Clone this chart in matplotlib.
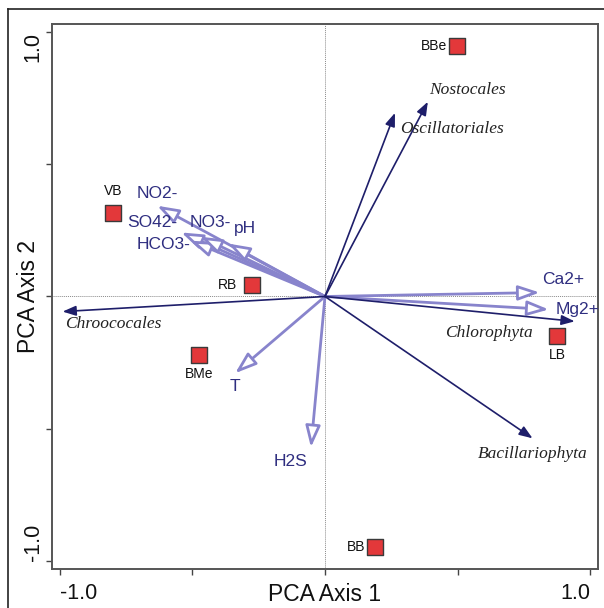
import matplotlib
matplotlib.use("Agg")
import matplotlib.pyplot as plt
from matplotlib.lines import Line2D

plt.rcParams["font.family"] = ["Liberation Sans", "DejaVu Sans"]

# sampling sites (PCA scores)
SITES = ["VB", "RB", "BMe", "BBe", "LB", "BB"]
SITE_X = [-0.80, -0.275, -0.475, 0.497, 0.874, 0.188]
SITE_Y = [0.317, 0.045, -0.223, 0.947, -0.151, -0.947]

# environmental variables (loadings)
ENV = ["NO2-", "SO42-", "HCO3-", "NO3-", "pH", "Ca2+", "Mg2+", "T", "H2S"]
ENV_X = [-0.633, -0.542, -0.508, -0.47, -0.365, 0.81, 0.844, -0.339, -0.053]
ENV_Y = [0.343, 0.242, 0.211, 0.226, 0.20, 0.015, -0.049, -0.29, -0.57]

# taxa (loadings)
TAXA = ["Nostocales", "Oscillatoriales", "Chroococales", "Chlorophyta",
        "Bacillariophyta"]
TAXA_X = [0.388, 0.264, -0.99, 0.942, 0.783]
TAXA_Y = [0.736, 0.694, -0.057, -0.094, -0.536]

# label placement (pixel offsets from point / arrow tip)
SITE_OFF = {"VB": (0, 22), "RB": (-25, 0), "BMe": (0, -19),
            "BBe": (-23, 0), "LB": (1, -19), "BB": (-19, 0)}
ENV_OFF = {"NO2-": (0, 12), "SO42-": (-29, 10), "HCO3-": (-27, -4),
           "NO3-": (10, 14), "pH": (17, 15), "Ca2+": (23, 13),
           "Mg2+": (29, 0), "T": (0, -13), "H2S": (-20, -14)}
TAXA_OFF = {"Nostocales": (40, 12), "Oscillatoriales": (57, -16),
            "Chroococales": (51, -12), "Chlorophyta": (-86, -12),
            "Bacillariophyta": (0, -16)}

ENV_C = "#8884cc"
ENV_TXT = "#2f2e80"
TAXA_C = "#1e1e6a"

fig = plt.figure(figsize=(6.04, 6.08), dpi=100)
ax = fig.add_axes([52 / 604, 39 / 608, 546 / 604, 545 / 608])
ax.set_xlim(-1.03, 1.03)
ax.set_ylim(-1.03, 1.03)

ax.axhline(0, color="#8a8a8a", lw=0.7, ls=(0, (1, 1)), zorder=0)
ax.axvline(0, color="#8a8a8a", lw=0.7, ls=(0, (1, 1)), zorder=0)

for name, x, y in zip(ENV, ENV_X, ENV_Y):
    ax.annotate("", xy=(x, y), xytext=(0, 0),
                arrowprops=dict(arrowstyle="-|>,head_length=1.3,head_width=0.45",
                                fc="white", ec=ENV_C, lw=2.0, mutation_scale=10,
                                shrinkA=0, shrinkB=0), zorder=2)
    dx, dy = ENV_OFF[name]
    ax.annotate(name, xy=(x, y), xytext=(dx, dy), textcoords="offset pixels",
                ha="center", va="center", fontsize=12.5, color=ENV_TXT,
                annotation_clip=False, zorder=4)

for name, x, y in zip(TAXA, TAXA_X, TAXA_Y):
    ax.annotate("", xy=(x, y), xytext=(0, 0),
                arrowprops=dict(arrowstyle="-|>,head_length=0.8,head_width=0.3",
                                fc=TAXA_C, ec=TAXA_C, lw=1.2, mutation_scale=10,
                                shrinkA=0, shrinkB=0), zorder=3)
    dx, dy = TAXA_OFF[name]
    ax.annotate(name, xy=(x, y), xytext=(dx, dy), textcoords="offset pixels",
                ha="center", va="center", fontsize=12.5, style="italic",
                family="Liberation Serif", color="#222222", zorder=4)

ax.scatter(SITE_X, SITE_Y, marker="s", s=130, color="#e3383a",
           edgecolors="#3a3a3a", linewidths=1.0, zorder=5)
for name, x, y in zip(SITES, SITE_X, SITE_Y):
    dx, dy = SITE_OFF[name]
    ax.annotate(name, xy=(x, y), xytext=(dx, dy), textcoords="offset pixels",
                ha="center", va="center", fontsize=10, color="#111111", zorder=6)

for sp in ax.spines.values():
    sp.set_color("#555555")
    sp.set_linewidth(1.4)

ticks = [-1.0, -0.5, 0.0, 0.5, 1.0]
ax.set_xticks(ticks)
ax.set_yticks(ticks)
ax.set_xticklabels(["-1.0", "", "", "", "1.0"])
ax.set_yticklabels(["-1.0", "", "", "", "1.0"])
ax.tick_params(direction="out", length=4, width=1, color="#444444",
               labelsize=15.5, labelcolor="#111111")
ax.tick_params(axis="x", pad=6)
ax.tick_params(axis="y", pad=2)
xl = ax.get_xticklabels()
xl[0].set_ha("left")
xl[-1].set_ha("right")
for lab in ax.get_yticklabels():
    lab.set_rotation(90)
yl = ax.get_yticklabels()
yl[0].set_va("bottom")
yl[-1].set_va("top")
for lab in yl:
    lab.set_ha("right")

ax.set_xlabel("PCA Axis 1", fontsize=16.5, color="#111111")
ax.set_ylabel("PCA Axis 2", fontsize=16.5, color="#111111")
ax.xaxis.set_label_coords(0.5, -0.026)
ax.yaxis.set_label_coords(-0.022, 0.5)

# outer frame (top and left edges)
fig.add_artist(Line2D([8 / 604, 1], [1 - 9 / 608, 1 - 9 / 608],
                      transform=fig.transFigure, color="#222222", lw=1.2))
fig.add_artist(Line2D([8 / 604, 8 / 604], [0, 1 - 9 / 608],
                      transform=fig.transFigure, color="#222222", lw=1.2))

fig.savefig("out.png", dpi=100)
